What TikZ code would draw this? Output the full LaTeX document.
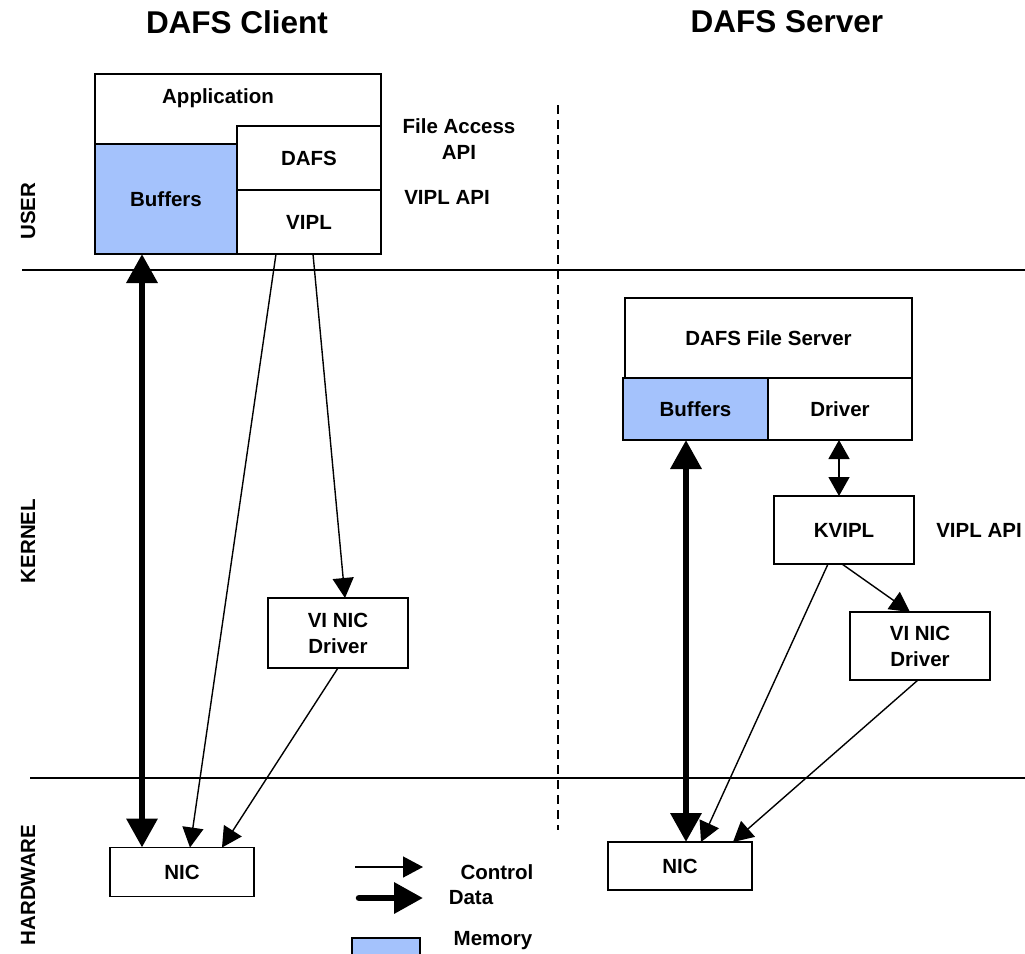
\documentclass[tikz,border=0pt]{standalone}
\usepackage{fontspec}
\setmainfont{Liberation Sans}
\usetikzlibrary{arrows.meta}
\definecolor{memblue}{RGB}{164,194,252}
\begin{document}
\begin{tikzpicture}[x=1pt,y=-1pt,
  every node/.style={font=\bfseries\fontsize{20.5}{26}\selectfont},
  box/.style={draw, line width=1.6pt, inner sep=0pt, outer sep=0pt, align=center},
  membox/.style={box, fill=memblue},
  txt/.style={inner sep=0pt, align=center},
  ttl/.style={inner sep=0pt, font=\bfseries\fontsize{31.5}{36}\selectfont},
  ctrl/.style={line width=1.4pt, -{Triangle[length=20pt,width=21pt]}},
  ctrlboth/.style={line width=1.4pt, {Triangle[length=19pt,width=21pt]}-{Triangle[length=19pt,width=21pt]}},
  dataarr/.style={line width=6.5pt, -{Triangle[length=29pt,width=30pt]}},
  databoth/.style={line width=6.5pt, {Triangle[length=29pt,width=30pt]}-{Triangle[length=29pt,width=30pt]}},
  sep/.style={line width=1.4pt}]
\useasboundingbox (0,0) rectangle (1025,953);
\clip (0,0) rectangle (1025,953);
\fill[white] (0,0) rectangle (1025,953);

% titles
\node[ttl] (tc) at (237,22) {DAFS Client};
\node[ttl] (ts) at (787,22) {DAFS Server};

% layer labels
\node[txt, rotate=90] (luser) at (28,211) {USER};
\node[txt, rotate=90] (lkern) at (28,541) {KERNEL};
\node[txt, rotate=90] (lhw) at (28,885) {HARDWARE};

% separators
\coordinate (h1a) at (22,270); \coordinate (h1b) at (1025,270);
\coordinate (h2a) at (30,778); \coordinate (h2b) at (1025,778);
\coordinate (va) at (558,105); \coordinate (vb) at (558,830);
\draw[sep] (h1a) -- (h1b);
\draw[sep] (h2a) -- (h2b);
\draw[line width=1.3pt, dash pattern=on 9pt off 6pt] (va) -- (vb);

% client stack
\node[box, minimum width=286, minimum height=180] (app) at (238,164) {};
\node[txt] (appt) at (218,98) {Application};
\node[box, minimum width=144, minimum height=64] (dafs) at (309,158) {DAFS};
\node[box, minimum width=144, minimum height=64] (vipl) at (309,222) {VIPL};
\node[membox, minimum width=142, minimum height=110] (buf) at (166,199) {Buffers};
\node[txt] (faapi) at (459,139) {File Access\\API};
\node[txt] (viplapi) at (447,197) {VIPL API};

\node[box, minimum width=140, minimum height=70] (vinic) at (338,633) {VI NIC\\Driver};
\node[box, minimum width=144, minimum height=49] (nic) at (182,872) {NIC};

% server stack
\node[box, minimum width=287, minimum height=80] (dfs) at (768.5,338) {DAFS File Server};
\node[membox, minimum width=145, minimum height=62] (sbuf) at (695.5,409) {Buffers};
\node[box, minimum width=144, minimum height=62] (drv) at (840,409) {Driver};
\node[box, minimum width=140, minimum height=68] (kvipl) at (844,530) {KVIPL};
\node[txt] (sviplapi) at (979,530) {VIPL API};
\node[box, minimum width=140, minimum height=68] (svinic) at (920,646) {VI NIC\\Driver};
\node[box, minimum width=144, minimum height=48] (snic) at (680,866) {NIC};

% client connectors
\draw[databoth] ([xshift=-24]buf.south) -- ([xshift=-40]nic.north);
\draw[ctrl] ([xshift=-33]vipl.south) -- ([xshift=8]nic.north);
\draw[ctrl] ([xshift=4]vipl.south) -- ([xshift=7]vinic.north);
\draw[ctrl] (vinic.south) -- ([xshift=40]nic.north);

% server connectors
\draw[databoth] ([xshift=-9.5]sbuf.south) -- ([xshift=6]snic.north);
\draw[ctrlboth] ([xshift=-1]drv.south) -- ([xshift=-5]kvipl.north);
\draw[ctrl] ([xshift=-2]kvipl.south) -- ([xshift=-10]svinic.north);
\draw[ctrl] ([xshift=-16]kvipl.south) -- ([xshift=21]snic.north);
\draw[ctrl] ([xshift=-2]svinic.south) -- ([xshift=53]snic.north);

% legend
\coordinate (lc1) at (355,867); \coordinate (lc2) at (423,867);
\coordinate (ld1) at (359,898); \coordinate (ld2) at (423,898);
\draw[ctrl] (lc1) -- (lc2);
\draw[dataarr, line cap=round] (ld1) -- (ld2);
\node[txt] (lctl) at (497,872) {Control};
\node[txt] (ldat) at (471,898) {Data};
\node[membox, minimum width=68, minimum height=30] (lmem) at (386,953) {};
\node[txt] (lmemt) at (493,941) {Memory};
\end{tikzpicture}
\end{document}
